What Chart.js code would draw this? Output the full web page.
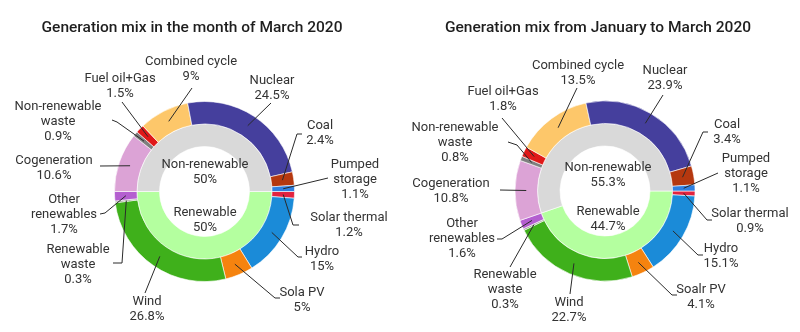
<!DOCTYPE html>
<html lang="en">
<head>
  <meta charset="UTF-8" />
  <title>Generation mix 2020</title>
  <script src="https://cdn.jsdelivr.net/npm/chart.js"></script>
  <style>
    body { margin: 0; background: #fff; }
    .wrap { position: relative; width: 800px; height: 332px; }
    .box { position: absolute; top: 0; width: 400px; height: 332px; }
  </style>
</head>
<body>
  <div class="wrap">
    <div class="box" style="left:0"><canvas id="march"></canvas></div>
    <div class="box" style="left:400px"><canvas id="quarter"></canvas></div>
  </div>

  <script>
    // outer ring, clockwise from 3 o'clock
    const sources = ['Solar thermal', 'Hydro', 'Sola PV', 'Wind', 'Renewable waste', 'Other renewables',
      'Cogeneration', 'Non-renewable waste', 'Fuel oil+Gas', 'Combined cycle', 'Nuclear', 'Coal', 'Pumped storage'];
    const sources2 = sources.map(s => s === 'Sola PV' ? 'Soalr PV' : s);
    const marchValues = [1.2, 15, 5, 26.8, 0.3, 1.7, 10.6, 0.9, 1.5, 9, 24.5, 2.4, 1.1];
    const quarterValues = [0.9, 15.1, 4.1, 22.7, 0.3, 1.6, 10.8, 0.8, 1.8, 13.5, 23.9, 3.4, 1.1];
    // inner ring
    const groups = ['Renewable', 'Non-renewable'];
    const marchGroups = [50, 50];
    const quarterGroups = [44.7, 55.3];

    const sourceColors = ['#e2233f', '#1b8bd8', '#f5830f', '#3fb01b', '#9aa08f', '#b45fd0',
      '#dca3d6', '#7f7f7f', '#e01818', '#fdc76a', '#453f9d', '#b5380f', '#2f7fe0'];
    const groupColors = ['#b4ff9f', '#d9d9d9'];
    const wrapped = ['Renewable waste', 'Other renewables', 'Non-renewable waste', 'Pumped storage'];

    // label spots [x, y of first line] and leader bends, canvas-local px
    const marchLayout = [
      { at: [349, 218], pts: [[293, 225], [299, 225]] },
      { at: [322, 252], pts: [[298, 257], [302, 257]] },
      { at: [302, 293], pts: [[275, 298], [280, 298]] },
      { at: [147, 302], pts: [[145, 293]] },
      { at: [78, 250], pts: [[122, 263], [113, 263]] },
      { at: [64, 200], pts: [[105, 213], [100, 214]] },
      { at: [54, 161], pts: [[100, 166]] },
      { at: [58, 107], pts: [[117, 122], [112, 120]] },
      { at: [120, 79], pts: [[122, 102]] },
      { at: [191, 62], pts: [[192, 88]] },
      { at: [272, 81], pts: [[271, 103]] },
      { at: [320, 126], pts: [[297, 134], [302, 134]] },
      { at: [355, 165], pts: [[328, 178]] }
    ];
    const quarterLayout = [
      { at: [350, 214], pts: [[307, 220], [312, 220]] },
      { at: [321, 249], pts: [[298, 255], [303, 255]] },
      { at: [301, 290], pts: [[272, 295], [277, 295]] },
      { at: [169, 303], pts: [[170, 294]] },
      { at: [105, 275], pts: [[110, 267]] },
      { at: [62, 224], pts: [[102, 239], [97, 239]] },
      { at: [51, 184], pts: [[100, 190]] },
      { at: [55, 128], pts: [[117, 145], [108, 142]] },
      { at: [103, 92], pts: [[102, 118]] },
      { at: [178, 66], pts: [[177, 88]] },
      { at: [265, 71], pts: [[263, 95]] },
      { at: [327, 125], pts: [[303, 132], [308, 132]] },
      { at: [346, 159], pts: [[318, 173]] }
    ];

    const labelFont = '13px Roboto, "Liberation Sans", sans-serif';
    const lineH = 15;

    const calloutPlugin = {
      id: 'callouts',
      afterDatasetsDraw(chart, args, opts) {
        const ctx = chart.ctx;
        const outer = chart.getDatasetMeta(0);
        const cx = outer.data[0].x, cy = outer.data[0].y;
        ctx.save();
        // title
        ctx.fillStyle = '#1e1e1e';
        ctx.font = '500 15.5px Roboto, sans-serif';
        ctx.textAlign = 'center';
        ctx.textBaseline = 'middle';
        ctx.fillText(opts.title, opts.titleX, 28);

        // leader lines
        ctx.strokeStyle = '#2a2a2a';
        ctx.lineWidth = 1;
        outer.data.forEach((arc, i) => {
          const p = arc.getProps(['startAngle', 'endAngle', 'innerRadius', 'outerRadius']);
          const mid = (p.startAngle + p.endAngle) / 2;
          const r = (p.innerRadius + p.outerRadius) / 2;
          ctx.beginPath();
          ctx.moveTo(cx + r * Math.cos(mid), cy + r * Math.sin(mid));
          opts.layout[i].pts.forEach(q => ctx.lineTo(q[0], q[1]));
          ctx.stroke();
        });

        // outer labels
        ctx.fillStyle = '#333';
        ctx.font = labelFont;
        const names = chart.data.labels;
        const vals = chart.data.datasets[0].data;
        names.forEach((name, i) => {
          let lines = [name];
          if (wrapped.includes(name)) {
            const k = name.lastIndexOf(' ');
            lines = [name.slice(0, k), name.slice(k + 1)];
          }
          lines.push(vals[i] + '%');
          const [x, y] = opts.layout[i].at;
          lines.forEach((t, j) => ctx.fillText(t, x, y + j * lineH));
        });

        // inner ring captions
        const gv = chart.data.datasets[1].data;
        opts.inner.forEach((dy, i) => {
          ctx.fillText(groups[i], opts.innerX, cy + dy);
          ctx.fillText(gv[i] + '%', opts.innerX, cy + dy + lineH);
        });
        ctx.restore();
      }
    };

    function makeChart(id, names, values, groupValues, o) {
      return new Chart(document.getElementById(id), {
        type: 'doughnut',
        data: {
          labels: names,
          datasets: [
            { data: values, backgroundColor: sourceColors, borderWidth: 0.6, borderColor: '#fff' },
            { data: groupValues, backgroundColor: groupColors, borderWidth: 0.6, borderColor: '#fff' }
          ]
        },
        options: {
          responsive: false,
          animation: false,
          rotation: 90,
          radius: 90,
          cutout: '50%',
          layout: { padding: o.padding },
          plugins: {
            legend: { display: false },
            tooltip: { enabled: false },
            callouts: { title: o.title, titleX: o.titleX, layout: o.layout, inner: o.inner, innerX: o.innerX }
          }
        },
        plugins: [calloutPlugin]
      });
    }

    ['march', 'quarter'].forEach(id => {
      const c = document.getElementById(id);
      c.width = 400; c.height = 332;
    });

    makeChart('march', sources, marchValues, marchGroups, {
      title: 'Generation mix in the month of March 2020', titleX: 192,
      padding: { left: 9, top: 51 }, layout: marchLayout,
      inner: [21, -27], innerX: 205
    });
    makeChart('quarter', sources2, quarterValues, quarterGroups, {
      title: 'Generation mix from January to March 2020', titleX: 198,
      padding: { left: 10, top: 50 }, layout: quarterLayout,
      inner: [21, -23], innerX: 208
    });
  </script>
</body>
</html>
